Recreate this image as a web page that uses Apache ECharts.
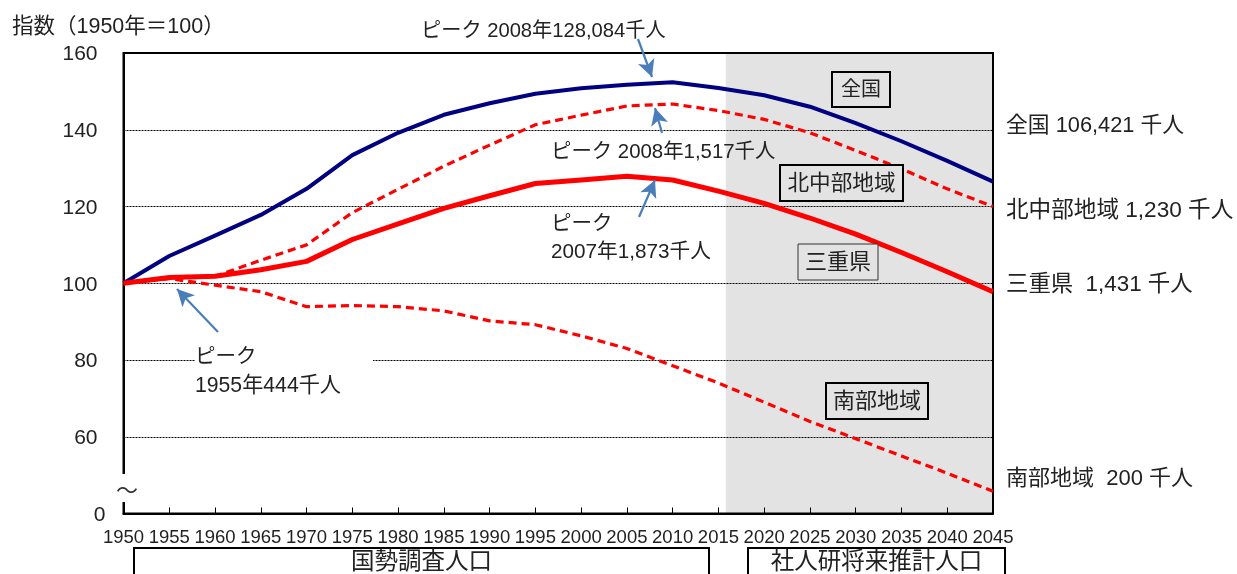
<!DOCTYPE html>
<html><head><meta charset="utf-8">
<style>html,body{margin:0;padding:0;background:#fff}#c{width:1237px;height:574px}</style>
<script src="https://cdn.jsdelivr.net/npm/echarts@6/dist/echarts.min.js"></script>
</head><body><div id="c"></div>
<script>
const years=[1950,1955,1960,1965,1970,1975,1980,1985,1990,1995,2000,2005,2010,2015,2020,2025,2030,2035,2040,2045];
const national=[100,107.1,112.4,117.8,124.6,133.4,139.2,143.9,146.9,149.4,150.8,151.7,152.4,150.9,149,146,141.7,137,131.9,126.5];
const hokuchubu=[100,101.5,101.8,106,110,118.4,124.5,130.5,136,141.3,143.8,146.2,146.7,145,142.7,139.2,134.6,129.8,124.6,120];
const mie=[100,101.5,101.8,103.5,105.7,111.4,115.5,119.5,122.8,126,126.9,127.9,126.9,124,120.8,117,112.8,108,103,97.8];
const nanbu=[100,101.2,99.5,97.8,93.9,94.2,93.9,92.8,90.2,89.2,86.3,83,78.5,74,69,64,59.5,55,50.5,45.8];
const shadeFrom=2015.8;
const FONT='"Liberation Sans","Noto Sans CJK JP",sans-serif';
const pair=a=>a.map((v,i)=>[years[i],v]);

const freeTexts=[
 ['指数（1950年＝100）',12,27,21.5],
 ['ピーク 2008年128,084千人',421,31,20.2],
 ['ピーク 2008年1,517千人',551,152,20.4],
 ['ピーク',551,224,20.5],
 ['2007年1,873千人',551,252,20.7],
 ['ピーク',195,357,20.5],
 ['1955年444千人',195,386,21.2],
 ['全国 106,421 千人',1006,126,21.8],
 ['北中部地域 1,230 千人',1006,211,22.6],
 ['三重県  1,431 千人',1006,285,22.4],
 ['南部地域  200 千人',1006,479,22]
];
const boxes=[
 ['全国',832,72,58,35,2,'#e3e3e3','#000',20],
 ['北中部地域',780,165,123,36,2,'#e3e3e3','#000',21.6],
 ['三重県',798,244,80,36,1,'#e3e3e3','#333',22],
 ['南部地域',826,383,102,36,2,'#e3e3e3','#000',22],
 ['国勢調査人口',134,548,575,40,2,'#fff','#000',23.5],
 ['社人研将来推計人口',748,548,257,40,2,'#fff','#000',23.5]
];
const arrows=[[638,39,652,77],[662,133,655,108],[639,217,655,180],[218,332,177,289]];

const graphic=[];
graphic.push({type:'rect',z:50,shape:{x:118,y:474,width:12,height:28},style:{fill:'#fff'}});
graphic.push({type:'text',z:60,x:116,y:492,style:{text:'〜',font:'22px '+FONT,fill:'#333',verticalAlign:'middle'}});
graphic.push({type:'rect',z:50,shape:{x:195,y:345,width:178,height:56},style:{fill:'#fff'}});
freeTexts.forEach(t=>graphic.push({type:'text',z:60,x:t[1],y:t[2],style:{text:t[0],font:t[3]+'px '+FONT,fill:'#222',verticalAlign:'middle'}}));
boxes.forEach(b=>{
 graphic.push({type:'rect',z:60,shape:{x:b[1],y:b[2],width:b[3],height:b[4]},style:{fill:b[6],stroke:b[7],lineWidth:b[5]}});
 graphic.push({type:'text',z:61,x:b[1]+b[3]/2,y:b[2]===548?563:b[2]+b[4]/2+1,style:{text:b[0],font:b[8]+'px '+FONT,fill:'#222',align:'center',verticalAlign:'middle'}});
});

const line=(name,data,color,width,dash,z)=>({name,type:'line',data:pair(data),z,showSymbol:false,symbol:'none',clip:false,animation:false,
 lineStyle:{color,width,type:dash?[8,5]:'solid',cap:'butt',join:'round'}});

const chart=echarts.init(document.getElementById('c'),null,{renderer:'canvas'});
chart.setOption({
 animation:false,
 grid:{left:123.5,top:53,width:869.5,height:460.5,show:true,borderColor:'#000',borderWidth:2,backgroundColor:'transparent',z:1},
 xAxis:{type:'value',min:1950,max:2045,interval:5,z:1,
  axisLine:{show:true,lineStyle:{color:'#000',width:2}},
  axisTick:{show:true,inside:true,length:6,lineStyle:{color:'#000',width:1}},
  splitLine:{show:false},
  axisLabel:{show:true,margin:15,fontSize:18.5,color:'#222',fontFamily:FONT,hideOverlap:false,formatter:v=>String(v)}},
 yAxis:{type:'value',min:40,max:160,interval:20,z:1,
  axisLine:{show:true,lineStyle:{color:'#000',width:2}},
  axisTick:{show:false},
  splitLine:{show:true,lineStyle:{color:'#000',width:1,type:[2,1]}},
  axisLabel:{margin:18,fontSize:21,color:'#222',fontFamily:FONT,padding:[3,0,0,0],
   formatter:v=>v===40?'{z|0}':'{n|'+v+'}{g|}',
   rich:{n:{fontSize:21,color:'#222',fontFamily:FONT},z:{fontSize:21,color:'#222',fontFamily:FONT},g:{width:8}}}},
 series:[
  {type:'line',name:'shade',data:[],z:-1,silent:true,
   markArea:{z:-1,silent:true,itemStyle:{color:'#e3e3e3'},data:[[{xAxis:shadeFrom,yAxis:40},{xAxis:2045,yAxis:160}]]}},
  line('南部地域',nanbu,'#ff0000',3.2,true,3),
  line('北中部地域',hokuchubu,'#ff0000',3.2,true,3),
  line('全国',national,'#000080',4,false,4),
  line('三重県',mie,'#ff0000',5,false,5),
  {type:'line',name:'arrows',data:[],z:6,
   markLine:{z:6,silent:true,animation:false,symbol:['none','arrow'],symbolSize:[13,17],
    lineStyle:{color:'#4a7ebb',width:2.2,type:'solid'},label:{show:false},
    data:arrows.map(a=>[{x:a[0],y:a[1]},{x:a[2],y:a[3]}])}}
 ],
 graphic
});
</script></body></html>
